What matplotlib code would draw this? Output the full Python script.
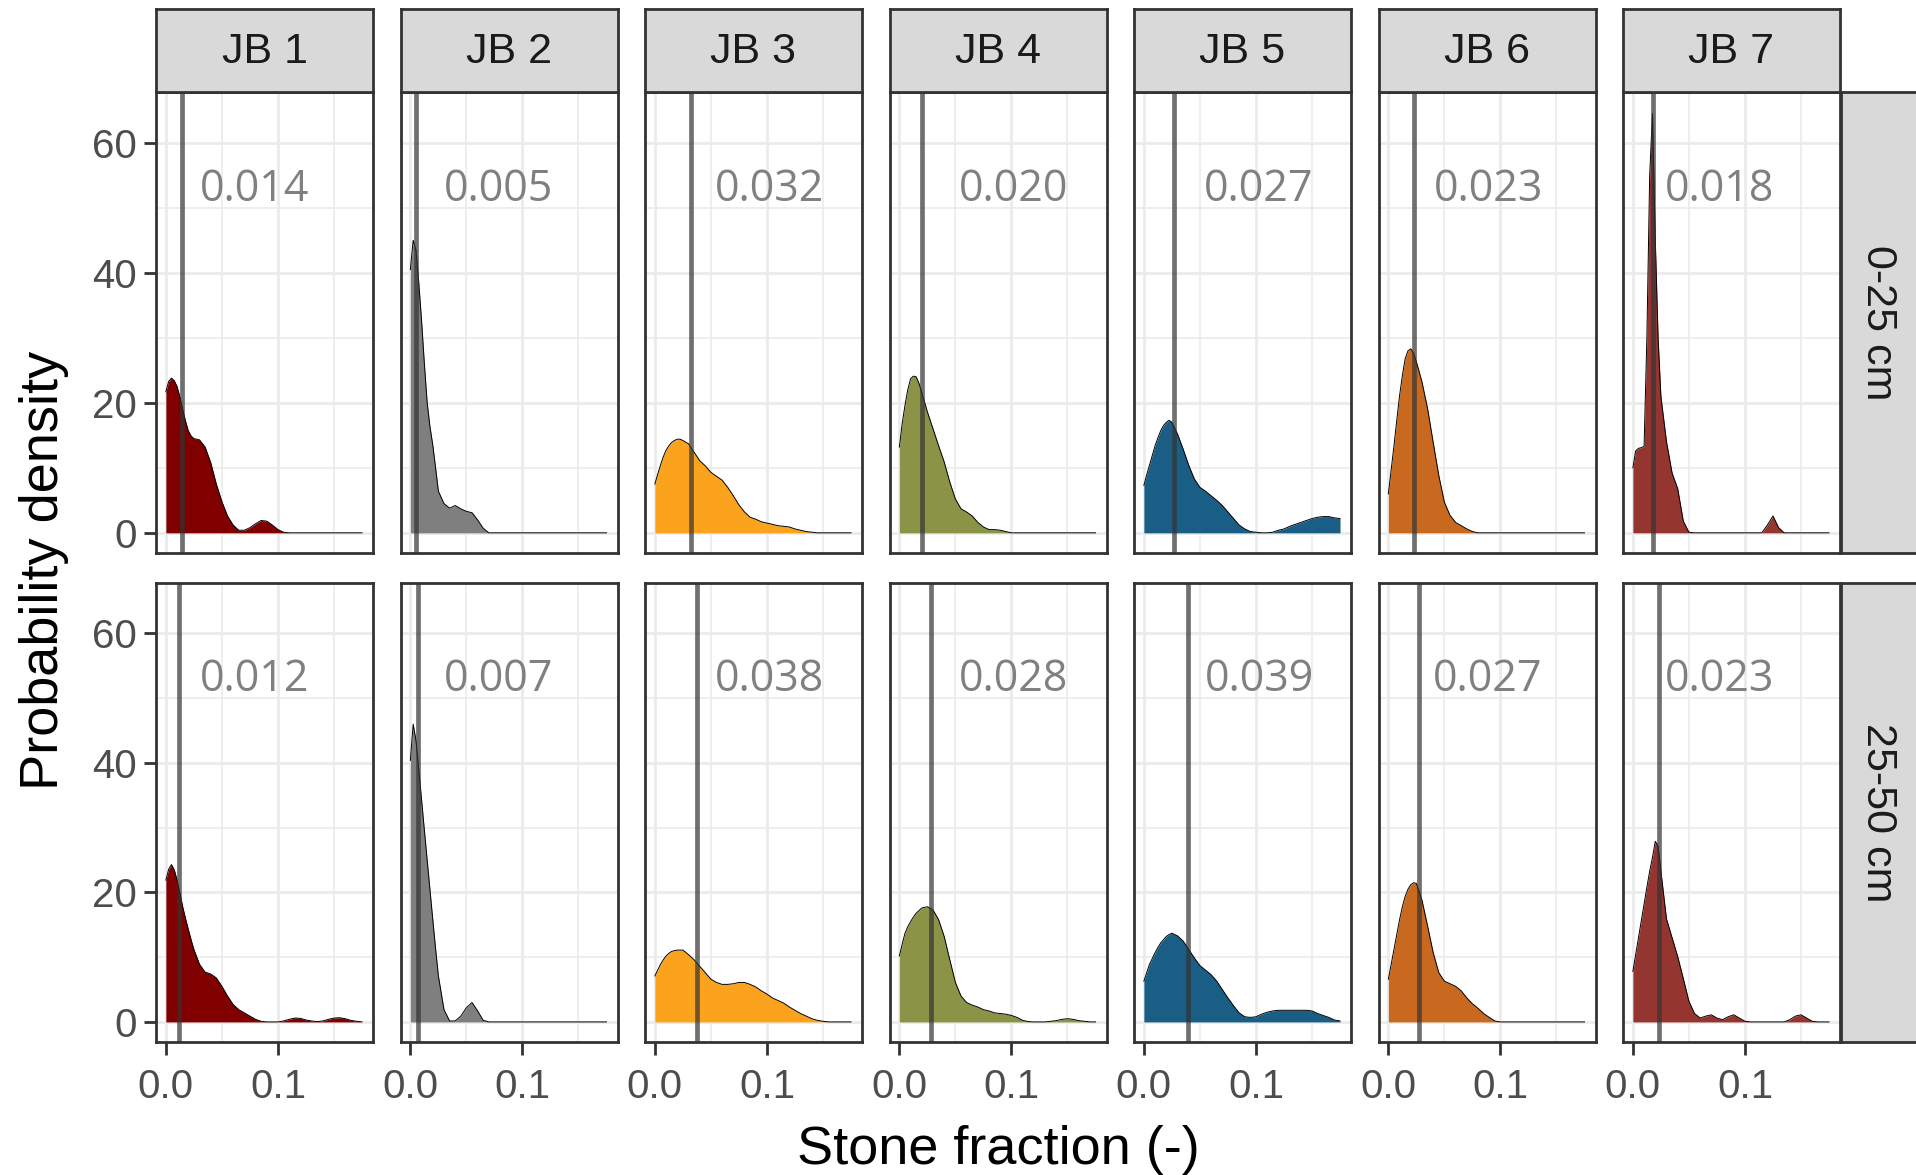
import numpy as np
import matplotlib
matplotlib.use("Agg")
import matplotlib.pyplot as plt

plt.rcParams['font.family'] = ['Liberation Sans', 'DejaVu Sans']

# sites and depths
sites = ['JB 1', 'JB 2', 'JB 3', 'JB 4', 'JB 5', 'JB 6', 'JB 7']
depths = ['0-25 cm', '25-50 cm']
colors = ['#800000', '#7F7F7F', '#FBA31C', '#8A9346', '#1A5E86', '#C9691F', '#953530']

# medians (vertical lines + labels)
med_top = [0.014, 0.005, 0.032, 0.020, 0.027, 0.023, 0.018]
med_bot = [0.012, 0.007, 0.038, 0.028, 0.039, 0.027, 0.023]

xs = [0, .0025, .005, .0075, .01, .0125, .015, .0175, .02, .0225, .025,
      .03, .035, .04, .045, .05, .055, .06, .065, .07, .075, .08, .085, .09,
      .095, .1, .105, .11, .115, .12, .125, .13, .135, .14, .145, .15, .155,
      .16, .165, .17, .175]

jb1_top = [21.7, 23.3, 23.8, 23.4, 22.5, 20.9, 19.0, 17.2, 15.7, 14.9, 14.5,
           14.3, 13.2, 10.8, 7.5, 4.8, 2.6, 1.2, 0.4, 0.4, 0.8, 1.4, 1.9, 1.8,
           1.2, 0.5, 0.1, 0, 0, 0, 0, 0, 0, 0, 0, 0, 0, 0, 0, 0, 0]
jb2_top = [40.5, 45.0, 43.5, 38.5, 32.6, 26.0, 20.0, 16.3, 13.5, 10.0, 6.4,
           4.5, 3.8, 4.2, 3.7, 3.3, 3.1, 2.0, 0.7, 0, 0, 0, 0, 0,
           0, 0, 0, 0, 0, 0, 0, 0, 0, 0, 0, 0, 0, 0, 0, 0, 0]
jb3_top = [7.5, 9.0, 10.4, 11.7, 12.7, 13.4, 13.9, 14.2, 14.4, 14.4, 14.2,
           13.7, 12.4, 11.1, 10.3, 9.3, 8.7, 8.1, 7.0, 5.7, 4.3, 3.2, 2.4, 2.1,
           1.7, 1.5, 1.3, 1.1, 1.0, 0.9, 0.6, 0.4, 0.2, 0.1, 0, 0, 0, 0, 0, 0, 0]
jb4_top = [13.2, 16.8, 19.6, 22.0, 23.7, 24.1, 24.0, 23.0, 21.6, 20.1, 18.6,
           16.0, 13.4, 10.9, 7.8, 5.2, 3.7, 3.2, 2.6, 1.6, 0.9, 0.5, 0.5, 0.4,
           0.2, 0, 0, 0, 0, 0, 0, 0, 0, 0, 0, 0, 0, 0, 0, 0, 0]
jb5_top = [7.3, 8.9, 10.4, 11.9, 13.4, 14.6, 15.7, 16.5, 17.0, 17.3, 17.0,
           15.2, 12.9, 10.4, 8.3, 7.0, 6.4, 5.7, 5.0, 4.2, 3.2, 2.2, 1.2, 0.6,
           0.2, 0.1, 0.0, 0.0, 0.1, 0.4, 0.6, 1.0, 1.3, 1.6, 1.9, 2.2, 2.4,
           2.5, 2.5, 2.3, 2.2]
jb6_top = [6.0, 9.7, 13.4, 17.3, 21.1, 24.2, 26.8, 28.0, 28.3, 27.6, 26.3,
           23.2, 19.1, 13.9, 8.8, 4.7, 2.7, 1.6, 1.1, 0.6, 0.2, 0, 0, 0,
           0, 0, 0, 0, 0, 0, 0, 0, 0, 0, 0, 0, 0, 0, 0, 0, 0]
jb7_top = [10.0, 12.6, 13.0, 13.1, 13.3, 30.0, 55.0, 64.5, 45.0, 30.0, 21.0,
           14.0, 9.2, 6.8, 1.8, 0.1, 0, 0, 0, 0, 0, 0, 0, 0,
           0, 0, 0, 0, 0, 1.2, 2.6, 0.8, 0, 0, 0, 0, 0, 0, 0, 0, 0]

jb1_bot = [21.9, 23.6, 24.3, 23.5, 21.9, 19.9, 17.8, 16.0, 14.3, 12.7, 11.2,
           8.9, 7.7, 7.4, 6.8, 5.5, 4.0, 2.7, 1.9, 1.4, 0.9, 0.4, 0.1, 0,
           0, 0, 0.15, 0.4, 0.6, 0.55, 0.3, 0.15, 0.05, 0.15, 0.4, 0.6, 0.65,
           0.5, 0.25, 0.1, 0]
jb2_bot = [40.4, 46.0, 43.5, 39.0, 34.3, 29.6, 25.0, 20.4, 15.8, 11.3, 7.1,
           1.9, 0.15, 0.15, 0.9, 2.2, 3.0, 1.7, 0.25, 0, 0, 0, 0, 0,
           0, 0, 0, 0, 0, 0, 0, 0, 0, 0, 0, 0, 0, 0, 0, 0, 0]
jb3_bot = [7.1, 8.0, 8.9, 9.6, 10.2, 10.6, 10.9, 11.0, 11.1, 11.1, 11.1,
           10.4, 9.6, 8.6, 7.6, 6.6, 6.1, 5.8, 5.8, 5.9, 6.1, 6.1, 5.8, 5.4,
           4.8, 4.3, 3.7, 3.3, 2.9, 2.3, 1.8, 1.3, 0.9, 0.5, 0.25, 0.1, 0,
           0, 0, 0, 0]
jb4_bot = [10.2, 12.0, 13.7, 14.7, 15.5, 16.2, 16.8, 17.2, 17.6, 17.7, 17.8,
           17.3, 15.8, 13.2, 9.6, 6.1, 4.0, 3.0, 2.6, 2.3, 1.9, 1.7, 1.4, 1.3,
           1.2, 1.0, 0.7, 0.25, 0.05, 0, 0, 0, 0.1, 0.2, 0.4, 0.5, 0.4,
           0.2, 0.1, 0, 0]
jb5_bot = [6.3, 7.6, 8.9, 9.8, 10.7, 11.5, 12.2, 12.7, 13.2, 13.5, 13.7,
           13.3, 12.5, 11.2, 9.9, 8.7, 8.0, 7.3, 6.3, 5.0, 3.7, 2.5, 1.4, 0.8,
           0.7, 0.8, 1.2, 1.5, 1.7, 1.8, 1.8, 1.8, 1.8, 1.8, 1.8, 1.7, 1.3,
           1.0, 0.7, 0.3, 0.15]
jb6_bot = [6.6, 8.9, 11.2, 13.5, 15.8, 17.8, 19.4, 20.5, 21.2, 21.5, 21.4,
           18.8, 14.8, 10.7, 7.6, 6.3, 5.9, 5.5, 4.8, 3.7, 2.8, 2.1, 1.3, 0.7,
           0.15, 0, 0, 0, 0, 0, 0, 0, 0, 0, 0, 0, 0, 0, 0, 0, 0]
jb7_bot = [7.8, 10.4, 13.0, 15.6, 18.2, 20.8, 23.3, 25.4, 27.9, 27.2, 23.3,
           15.9, 13.0, 10.1, 6.7, 3.2, 1.3, 0.6, 0.9, 1.1, 0.6, 0.35, 0.8, 1.1,
           0.6, 0.1, 0, 0, 0, 0, 0, 0, 0, 0.35, 0.9, 1.1, 0.6, 0.1, 0, 0, 0]

dens = [[jb1_top, jb2_top, jb3_top, jb4_top, jb5_top, jb6_top, jb7_top],
        [jb1_bot, jb2_bot, jb3_bot, jb4_bot, jb5_bot, jb6_bot, jb7_bot]]
meds = [med_top, med_bot]

# where the median labels sit (x in data units)
lab_x = [[0.079, 0.079, 0.102, 0.102, 0.102, 0.089, 0.077],
         [0.079, 0.079, 0.102, 0.102, 0.103, 0.089, 0.077]]

W, H = 1916, 1175
fig = plt.figure(figsize=(W / 100, H / 100), dpi=100)

dark = '#333333'
rows = [(553, 461), (1042, 459)]   # bottom edge px, height px
pitch = 244.5

for r in range(2):
    ybot, hgt = rows[r]
    for c in range(7):
        left = 156 + c * pitch
        ax = fig.add_axes([left / W, 1 - ybot / H, 217 / W, hgt / H])
        y = dens[r][c]
        ax.fill_between(xs, y, 0, color=colors[c], lw=0, zorder=2)
        ax.plot(xs, y, color='black', lw=0.7, zorder=3)
        ax.axvline(meds[r][c], color=dark, alpha=0.7, lw=3.4, zorder=4)
        ax.text(lab_x[r][c], 52.8, '%.3f' % meds[r][c], ha='center', va='center',
                fontsize=31, color='#808080', family=['Open Sans', 'DejaVu Sans'],
                zorder=5)

        ax.set_xlim(-0.0088, 0.1848)
        ax.set_ylim(-3.1, 67.8)
        ax.set_xticks([0, 0.1])
        ax.set_xticks([0.05, 0.15], minor=True)
        ax.set_yticks([0, 20, 40, 60])
        ax.set_yticks([10, 30, 50], minor=True)
        ax.grid(which='major', color='#EBEBEB', lw=2.0, zorder=0)
        ax.grid(which='minor', color='#EBEBEB', lw=1.2, zorder=0)
        ax.set_axisbelow(True)
        for s in ax.spines.values():
            s.set_color(dark)
            s.set_linewidth(2.0)
            s.set_zorder(6)
        ax.tick_params(which='minor', length=0)
        ax.tick_params(which='major', length=9, width=2, color=dark,
                       labelsize=29, labelcolor='#4D4D4D')
        ax.tick_params(axis='x', pad=10)
        ax.tick_params(axis='y', pad=5)
        if r == 0:
            ax.tick_params(axis='x', length=0, labelbottom=False)
        else:
            ax.set_xticklabels(['0.0', '0.1'])
        if c == 0:
            ax.set_yticklabels(['0', '20', '40', '60'])
        else:
            ax.tick_params(axis='y', length=0, labelleft=False)

        # column strip
        if r == 0:
            sax = fig.add_axes([left / W, 1 - 92 / H, 217 / W, 83 / H])
            sax.set_facecolor('#D9D9D9')
            sax.set_xticks([])
            sax.set_yticks([])
            for s in sax.spines.values():
                s.set_color(dark)
                s.set_linewidth(2.0)
            sax.text(0.5, 0.48, sites[c], ha='center', va='center',
                     fontsize=31, color='#1A1A1A', transform=sax.transAxes)

    # row strip
    rax = fig.add_axes([1841 / W, 1 - ybot / H, 83 / W, hgt / H])
    rax.set_facecolor('#D9D9D9')
    rax.set_xticks([])
    rax.set_yticks([])
    for s in rax.spines.values():
        s.set_color(dark)
        s.set_linewidth(2.0)
    rax.text(0.45, 0.5, depths[r], ha='center', va='center', rotation=-90,
             fontsize=31, color='#1A1A1A', transform=rax.transAxes)

fig.text(998 / W, 1 - 1150 / H, 'Stone fraction (-)', ha='center', va='center',
         fontsize=39, color='black')
fig.text(44 / W, 1 - 570 / H, 'Probability density', ha='center', va='center',
         rotation=90, fontsize=39, color='black')

fig.savefig('out.png', dpi=100, facecolor='white')
